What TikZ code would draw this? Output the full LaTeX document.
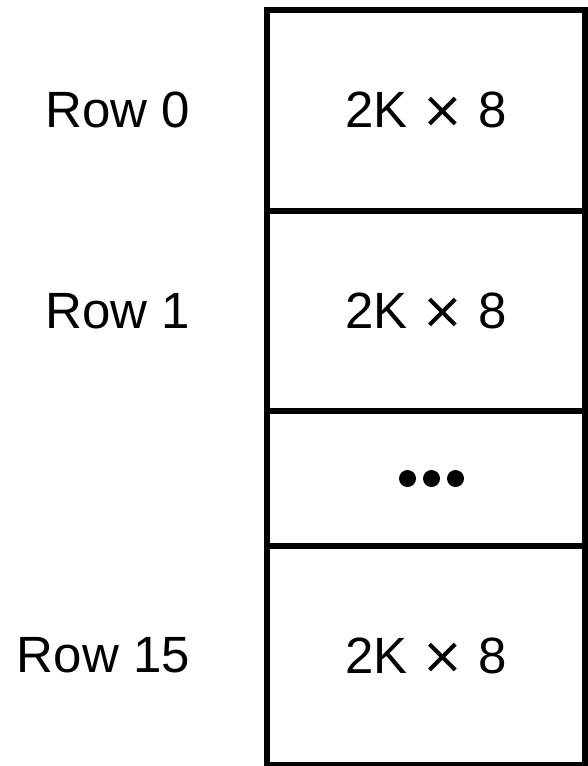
\documentclass[tikz,border=0pt]{standalone}
\usepackage{fontspec}
\setmainfont{Liberation Sans}
\newfontfamily\symfont{DejaVu Sans}
\newcommand{\by}{{\symfont\char"00D7}}
\usetikzlibrary{positioning}

\begin{document}
\begin{tikzpicture}[x=1pt, y=1pt]
    % Width of one row of the memory stack
    \def\wide{318pt}

    % Fix the page to the size of the picture
    \useasboundingbox (0, 0) rectangle (588, -766);

    \tikzset{
        cell/.style={draw, line width=6pt, minimum width=\wide, inner sep=0pt,
                     outer sep=0pt, font=\fontsize{51}{60}\selectfont},
        rowlabel/.style={anchor=east, inner sep=0pt, font=\fontsize{51}{60}\selectfont}
    }

    % The rows, stacked so that their borders are shared
    \node[cell, minimum height=200.5pt] (row0) at (426, -110.25) {2K \by{} 8};
    \node[cell, minimum height=200.5pt, below=0pt of row0] (row1) {2K \by{} 8};
    \node[cell, minimum height=135pt, below=0pt of row1] (dots) {};
    \node[cell, minimum height=219pt, below=0pt of dots] (row15) {2K \by{} 8};

    % Three dots for the rows left out
    \foreach \dx in {-24, 0, 24}
        \fill ([xshift=\dx pt + 5.5pt]dots.center) circle (8.5pt);

    % Label the rows
    \node[rowlabel, left=77pt of row0.west] (lab0) {Row 0};
    \node[rowlabel, left=77pt of row1.west] (lab1) {Row 1};
    \node[rowlabel, left=77pt of row15.west] (lab15) {Row 15};
\end{tikzpicture}
\end{document}
